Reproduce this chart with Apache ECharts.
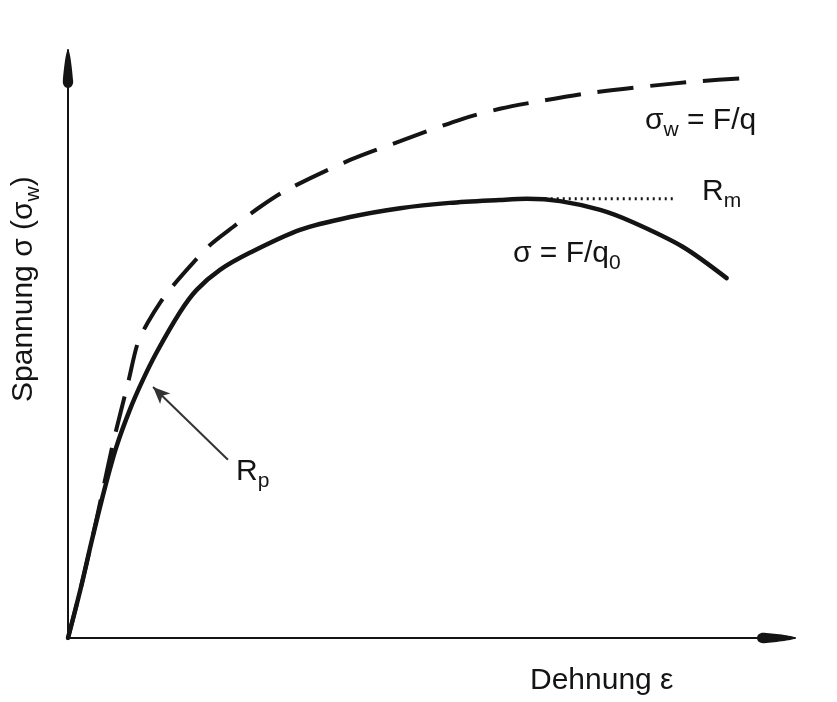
<!DOCTYPE html>
<html>
<head>
<meta charset="utf-8">
<script src="https://cdn.jsdelivr.net/npm/echarts@6/dist/echarts.min.js"></script>
<style>
  html, body { margin: 0; padding: 0; background: #fff; }
  #chart { width: 837px; height: 702px; }
</style>
</head>
<body>
<div id="chart"></div>
<script>
// engineering stress curve  sigma = F/q0
const solidStrain = [0, 1.7, 3.3, 5.0, 6.6, 8.5, 10.3, 12.2, 15.4, 17.7, 20.9, 25.0, 31.9, 38.8, 45.7, 52.5, 59.4, 63.1, 67.7, 73.2, 77.7, 84.6, 90.6];
const solidStress = [0, 8.2, 16.7, 25.2, 32.3, 38.8, 43.9, 48.6, 55.4, 59.2, 62.6, 65.5, 69.4, 71.6, 73.1, 74.0, 74.5, 74.7, 74.3, 72.8, 70.7, 66.5, 61.2];

// true stress curve  sigma_w = F/q
const trueStrain = [0, 1.7, 3.3, 4.8, 6.3, 8.3, 9.6, 11.0, 12.7, 14.3, 17.2, 19.5, 22.7, 26.4, 30.1, 38.8, 45.7, 54.3, 59.4, 64.9, 71.8, 80.1, 86.9, 92.8];
const trueStress = [0, 8.2, 16.7, 25.2, 33.7, 43.6, 50.2, 53.7, 57.1, 59.7, 63.8, 66.8, 69.9, 73.3, 76.2, 81.3, 84.5, 88.3, 90.0, 91.3, 92.7, 93.9, 94.7, 95.2];

// Rm level and Rp pointer
const rmStrain = [63.1, 83.2];
const rmStress = 74.7;
const rpFrom = [22.0, 30.3];
const rpTo = [11.7, 42.7];

const FONT = '"Liberation Sans", Arial, sans-serif';
const ink = '#141414';
const big = 30, small = 21, drop = 9;

const ctx = document.createElement('canvas').getContext('2d');
function textWidth(s, size) {
  ctx.font = size + 'px ' + FONT;
  return ctx.measureText(s).width;
}

// lays out "main / subscript / main" pieces one after the other
function formula(parts) {
  let x = 0;
  const out = [];
  parts.forEach(function (p) {
    const size = p.sub ? small : big;
    out.push({
      type: 'text',
      x: x,
      y: p.sub ? drop : 0,
      silent: true,
      style: {
        text: p.t,
        font: size + 'px ' + FONT,
        fill: ink,
        align: 'left', textAlign: 'left',
        verticalAlign: 'middle', textVerticalAlign: 'middle'
      }
    });
    x += textWidth(p.t, size);
  });
  return out;
}

function group(x, y, parts, rotation) {
  return { type: 'group', x: x, y: y, rotation: rotation || 0, children: formula(parts) };
}

const bullet = 'path://M5,0 C7,0 9,18 10,30 C10.5,34 8,37 5,37 C2,37 -0.5,34 0,30 C1,18 3,0 5,0 Z';

const chart = echarts.init(document.getElementById('chart'));

const axisBase = {
  type: 'value',
  min: 0,
  max: 100,
  axisLine: {
    show: true,
    symbol: ['none', bullet],
    symbolSize: [13, 38],
    symbolOffset: [0, -19],
    lineStyle: { color: ink, width: 2 }
  },
  axisTick: { show: false },
  axisLabel: { show: false },
  splitLine: { show: false }
};

chart.setOption({
  animation: false,
  backgroundColor: '#fff',
  grid: { left: 68, right: 42, top: 50, bottom: 64 },
  xAxis: axisBase,
  yAxis: axisBase,
  series: [
    {
      name: 'sigma',
      type: 'line',
      data: solidStrain.map((x, i) => [x, solidStress[i]]),
      smooth: 0.3,
      symbol: 'none',
      z: 3,
      lineStyle: { color: ink, width: 4.5, cap: 'round', join: 'round' }
    },
    {
      name: 'sigma_w',
      type: 'line',
      data: trueStrain.map((x, i) => [x, trueStress[i]]),
      smooth: 0.3,
      symbol: 'none',
      z: 2,
      lineStyle: { color: ink, width: 4, type: [36, 17] }
    },
    {
      name: 'Rm',
      type: 'line',
      data: rmStrain.map(x => [x, rmStress]),
      symbol: 'none',
      lineStyle: { color: ink, width: 3, type: [2, 4] },
      markLine: {
        silent: true,
        symbol: ['none', 'arrow'],
        symbolSize: [11, 17],
        label: { show: false },
        lineStyle: { color: '#333', width: 2, type: 'solid' },
        data: [[{ coord: rpFrom }, { coord: rpTo }]]
      }
    }
  ],
  graphic: [
    group(645, 121, [{ t: 'σ' }, { t: 'w', sub: true }, { t: ' = F/q' }]),
    group(513, 254, [{ t: 'σ = F/q' }, { t: '0', sub: true }]),
    group(702, 192, [{ t: 'R' }, { t: 'm', sub: true }]),
    group(236, 472, [{ t: 'R' }, { t: 'p', sub: true }]),
    group(530, 681, [{ t: 'Dehnung ε' }]),
    group(24, 402, [{ t: 'Spannung σ (σ' }, { t: 'w', sub: true }, { t: ')' }], Math.PI / 2)
  ]
});
</script>
</body>
</html>
